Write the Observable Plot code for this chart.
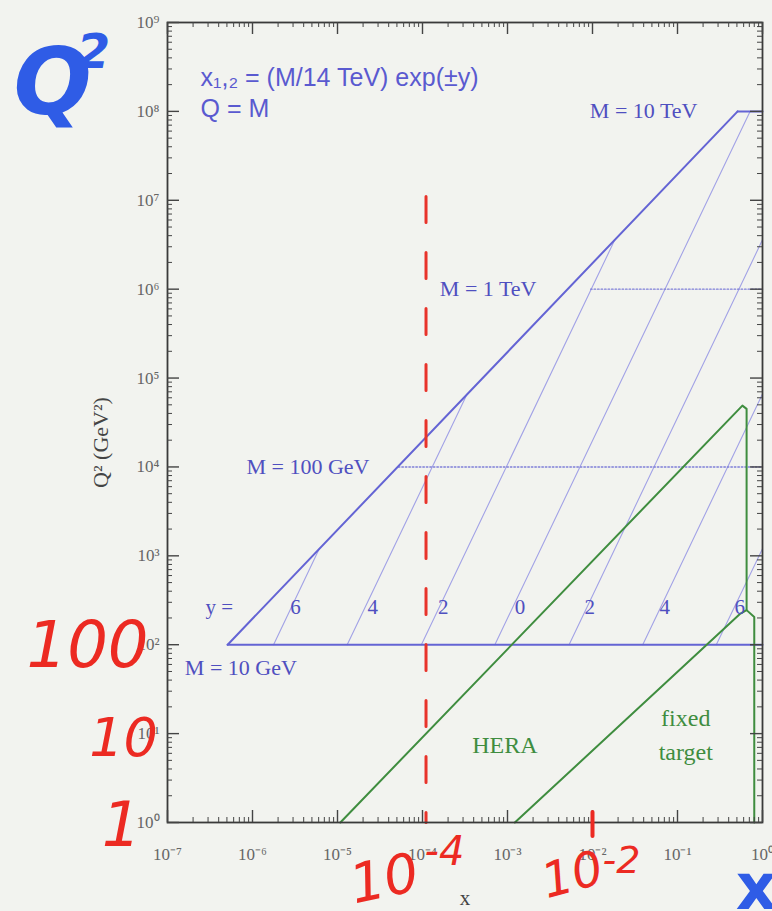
<!DOCTYPE html>
<html><head><meta charset="utf-8">
<script src="https://cdn.jsdelivr.net/npm/d3@7"></script>
<script src="https://cdn.jsdelivr.net/npm/@observablehq/plot@0.6"></script>
<style>
html,body{margin:0;padding:0;background:#f2f3ef;}
#chart svg{display:block;}
</style></head><body><div id="chart"></div>
<script>
// ---------- axis ticks ----------
const xMajor = [1e-7, 1e-6, 1e-5, 1e-4, 1e-3, 1e-2, 1e-1, 1];
const xTickLabels = ["10⁻⁷","10⁻⁶","10⁻⁵","10⁻⁴","10⁻³","10⁻²","10⁻¹","10⁰"];
const yMajor = [1, 1e1, 1e2, 1e3, 1e4, 1e5, 1e6, 1e7, 1e8, 1e9];
const yTickLabels = ["10⁰","10¹","10²","10³","10⁴","10⁵","10⁶","10⁷","10⁸","10⁹"];

// ---------- LHC boundary lines (x, Q² in GeV²) ----------
const envelopeX = [5.1e-7, 0.51];  const envelopeQ2 = [100, 1e8];
const m10GeVX   = [5.1e-7, 1];     const m10GeVQ2   = [100, 100];
const m10TeVX   = [0.51, 1];       const m10TeVQ2   = [1e8, 1e8];
const m1TeVX    = [0.0095, 1];     const m1TeVQ2    = [1e6, 1e6];
const m100GeVX  = [5.2e-5, 1];     const m100GeVQ2  = [1e4, 1e4];

// ---------- constant rapidity lines ----------
const rapidityLabels  = ["6","4","2","0","2","4","6"];
const rapidityXStart  = [1.77e-6, 1.30e-5, 9.7e-5, 7.1e-4, 5.3e-3, 0.039, 0.286];
const rapidityQ2Start = [100, 100, 100, 100, 100, 100, 100];
const rapidityXEnd    = [6.1e-6, 3.35e-4, 0.0183, 0.714, 1, 1, 1];
const rapidityQ2End   = [1204, 6.6e4, 3.59e6, 1e8, 3.59e6, 6.6e4, 1204];
const rapidityLabelX  = [3.2e-6, 2.6e-5, 1.75e-4, 1.4e-3, 9.3e-3, 0.071, 0.54];
const rapidityLabelQ2 = 262;

// ---------- HERA and fixed target ----------
const heraX  = [1.08e-5, 0.58, 0.65, 0.65, 0.80, 0.80];
const heraQ2 = [1, 4.9e4, 4.5e4, 245, 205, 1];
const fixedX  = [1.22e-3, 0.55, 0.65];
const fixedQ2 = [1, 224, 245];

// ---------- red x = 1e-4 line ----------
const redX  = [1.1e-4, 1.1e-4];
const redQ2 = [1.1e7, 1];

// ---------- labels ----------
const massLabels   = ["M = 10 TeV", "M = 1 TeV", "M = 100 GeV", "M = 10 GeV"];
const massLabelX   = [9.3e-3, 1.6e-4, 8.5e-7, 1.6e-7];
const massLabelQ2  = [1e8, 1e6, 1e4, 55];
const regionLabels = ["HERA", "fixed", "target"];
const regionLabelX = [9.3e-4, 0.125, 0.125];
const regionLabelQ2 = [7.3, 14.8, 6.1];
const formulaLine1 = "x₁,₂ = (M/14 TeV) exp(±y)";
const formulaLine2 = "Q = M";

// ---------- build tables ----------
const rows = (name, xs, qs) => xs.map((x, i) => ({name, x, q2: qs[i]}));
const solid = [...rows("env", envelopeX, envelopeQ2), ...rows("m10", m10GeVX, m10GeVQ2), ...rows("m10t", m10TeVX, m10TeVQ2)];
const dotted = [...rows("m1t", m1TeVX, m1TeVQ2), ...rows("m100", m100GeVX, m100GeVQ2)];
const rapidity = rapidityLabels.flatMap((l, i) => [
  {id: i, x: rapidityXStart[i], q2: rapidityQ2Start[i]},
  {id: i, x: rapidityXEnd[i], q2: rapidityQ2End[i]}
]);
const hera = rows("hera", heraX, heraQ2);
const fixed = rows("fixed", fixedX, fixedQ2);
const red = rows("red", redX, redQ2);

const xMinor = d3.range(-7, 0).flatMap(e => d3.range(2, 10).map(m => m * 10 ** e));
const yMinor = d3.range(0, 9).flatMap(e => d3.range(2, 10).map(m => m * 10 ** e));

const W = 772, H = 911, mL = 167, mR = 10, mT = 22, mB = 89;
const pw = W - mL - mR, ph = H - mT - mB;
const blue = "#6464d4", thin = "#a2a2e6", green = "#3f8d3f", redC = "#e8332a", hand = "#ec2a22", handBlue = "#2f5ce6";
const labBlue = "#4f4fc0", tickC = "#444";
const handFont = "DejaVu Sans";
const hw = {fontFamily: handFont, fontStyle: "italic", textAnchor: "middle", lineAnchor: "middle"};

const chart = Plot.plot({
  width: W, height: H,
  marginLeft: mL, marginRight: mR, marginTop: mT, marginBottom: mB,
  x: {type: "log", domain: [1e-7, 1], axis: null},
  y: {type: "log", domain: [1, 1e9], axis: null},
  style: {fontFamily: "Liberation Serif", background: "#f2f3ef", overflow: "visible"},
  marks: [
    Plot.line(rapidity, {x: "x", y: "q2", z: "id", stroke: thin, strokeWidth: 1.1}),
    Plot.line(dotted, {x: "x", y: "q2", z: "name", stroke: "#7f7fd8", strokeWidth: 1.4, strokeDasharray: "1.5,2"}),
    Plot.line(solid, {x: "x", y: "q2", z: "name", stroke: blue, strokeWidth: 2}),
    Plot.line(hera, {x: "x", y: "q2", stroke: green, strokeWidth: 2, strokeLinejoin: "round"}),
    Plot.line(fixed, {x: "x", y: "q2", stroke: green, strokeWidth: 2}),
    Plot.line(red, {x: "x", y: "q2", stroke: redC, strokeWidth: 3, strokeDasharray: "26,30"}),
    Plot.frame({stroke: "#3a3a3a", strokeWidth: 1.8}),
    Plot.ruleX(xMinor, {x: d => d, insetTop: ph - 5, stroke: tickC}),
    Plot.ruleX(xMinor, {x: d => d, insetBottom: ph - 5, stroke: tickC}),
    Plot.ruleX(xMajor, {x: d => d, insetTop: ph - 12, stroke: tickC, strokeWidth: 1.4}),
    Plot.ruleX(xMajor, {x: d => d, insetBottom: ph - 12, stroke: tickC, strokeWidth: 1.4}),
    Plot.ruleY(yMinor, {y: d => d, insetRight: pw - 5, stroke: tickC}),
    Plot.ruleY(yMinor, {y: d => d, insetLeft: pw - 5, stroke: tickC}),
    Plot.ruleY(yMajor, {y: d => d, insetRight: pw - 12, stroke: tickC, strokeWidth: 1.4}),
    Plot.ruleY(yMajor, {y: d => d, insetLeft: pw - 12, stroke: tickC, strokeWidth: 1.4}),
    // tick labels
    Plot.text(xMajor, {x: d => d, frameAnchor: "bottom", dy: 32, text: (d, i) => xTickLabels[i], fontSize: 17, fill: "#666", textAnchor: "middle", lineAnchor: "middle"}),
    Plot.text(yMajor, {y: d => d, frameAnchor: "left", dx: -8, text: (d, i) => yTickLabels[i], fontSize: 17, fill: "#666", textAnchor: "end", lineAnchor: "middle"}),
    // axis titles
    Plot.text(["Q² (GeV²)"], {frameAnchor: "left", dx: -67, dy: 20, rotate: -90, fontSize: 22, fill: "#444", textAnchor: "middle", lineAnchor: "middle"}),
    Plot.text(["x"], {frameAnchor: "bottom", dy: 76, fontSize: 21, fill: "#444", textAnchor: "middle", lineAnchor: "middle"}),
    // formula
    Plot.text([formulaLine1], {frameAnchor: "top-left", dx: 33, dy: 55, fontFamily: "Liberation Sans", fontSize: 25, fill: "#5a5ad0", textAnchor: "start", lineAnchor: "middle"}),
    Plot.text([formulaLine2], {frameAnchor: "top-left", dx: 33, dy: 86, fontFamily: "Liberation Sans", fontSize: 25, fill: "#5a5ad0", textAnchor: "start", lineAnchor: "middle"}),
    // labels
    Plot.text(massLabels, {x: (d, i) => massLabelX[i], y: (d, i) => massLabelQ2[i], text: d => d, fontSize: 22, fill: labBlue, textAnchor: "start", lineAnchor: "middle"}),
    Plot.text(rapidityLabels, {x: (d, i) => rapidityLabelX[i], y: () => rapidityLabelQ2, text: d => d, fontSize: 21, fill: labBlue, textAnchor: "middle", lineAnchor: "middle"}),
    Plot.text(["y ="], {x: () => 2.8e-7, y: () => rapidityLabelQ2, fontSize: 21, fill: labBlue, textAnchor: "start", lineAnchor: "middle"}),
    Plot.text(regionLabels, {x: (d, i) => regionLabelX[i], y: (d, i) => regionLabelQ2[i], text: d => d, fontSize: 24, fill: green, textAnchor: "middle", lineAnchor: "middle"}),
    // handwritten annotations
    Plot.text(["Q"], {...hw, frameAnchor: "top-left", dx: -115, dy: 62, fontWeight: "bold", fontSize: 92, fill: handBlue}),
    Plot.text(["2"], {...hw, frameAnchor: "top-left", dx: -74, dy: 30, fontWeight: "bold", fontSize: 48, fill: handBlue}),
    Plot.text(["x"], {...hw, fontStyle: "normal", frameAnchor: "bottom-right", dx: -6, dy: 66, fontWeight: "bold", fontSize: 64, fill: handBlue}),
    Plot.text(["100"], {...hw, y: () => 100, frameAnchor: "left", dx: -80, dy: 2, fontSize: 64, fill: hand}),
    Plot.text(["10"], {...hw, y: () => 10, frameAnchor: "left", dx: -44, dy: 5, fontSize: 54, fill: hand}),
    Plot.text(["1"], {...hw, y: () => 1, frameAnchor: "left", dx: -46, dy: 4, fontSize: 62, fill: hand}),
    Plot.text(["10"], {...hw, x: () => 1e-4, frameAnchor: "bottom", dx: -38, dy: 57, rotate: -12, fontSize: 54, fill: hand}),
    Plot.text(["-4"], {...hw, textAnchor: "start", x: () => 1e-4, frameAnchor: "bottom", dx: 2, dy: 30, fontSize: 40, fill: hand}),
    Plot.text(["10"], {...hw, x: () => 1e-2, frameAnchor: "bottom", dx: -20, dy: 53, rotate: -15, fontSize: 48, fill: hand}),
    Plot.text(["-2"], {...hw, textAnchor: "start", x: () => 1e-2, frameAnchor: "bottom", dx: 10, dy: 38, fontSize: 38, fill: hand}),
    Plot.ruleX([1e-2], {x: d => d, insetTop: ph - 10, insetBottom: -14, stroke: hand, strokeWidth: 4, strokeLinecap: "round"})
  ]
});
document.getElementById("chart").appendChild(chart);
</script>
</body></html>
